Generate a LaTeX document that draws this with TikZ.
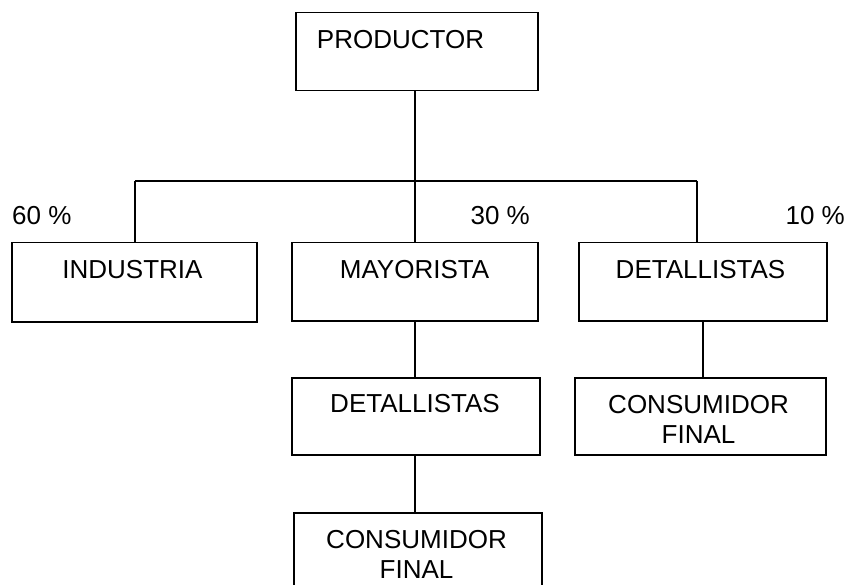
\documentclass[tikz,border=0pt]{standalone}
\usepackage{fontspec}
\setmainfont{Liberation Sans}
\begin{document}
\begin{tikzpicture}[x=1pt,y=-1pt,
  box/.style={draw, line width=1.5pt, inner sep=0pt, anchor=north west},
  lbl/.style={inner sep=0pt, anchor=base, font=\fontsize{26}{30}\selectfont},
  wire/.style={line width=1.5pt}]
\clip (0,0) rectangle (856,585);
\fill[white] (0,0) rectangle (856,585);
% boxes
\node[box, minimum width=242pt, minimum height=78pt] (prod) at (295,12) {};
\node[box, minimum width=245pt, minimum height=79pt] (ind) at (11,242) {};
\node[box, minimum width=246pt, minimum height=78pt] (may) at (291,242) {};
\node[box, minimum width=248pt, minimum height=78pt] (detR) at (578,242) {};
\node[box, minimum width=248pt, minimum height=77pt] (detM) at (291,377) {};
\node[box, minimum width=251pt, minimum height=77pt] (consR) at (574,377) {};
\node[box, minimum width=248pt, minimum height=90pt] (consM) at (293,512) {};
% texts
\node[lbl] (tprod) at (400.5,49) {PRODUCTOR};
\node[lbl] (tind) at (132.5,278) {INDUSTRIA};
\node[lbl] (tmay) at (414.5,278) {MAYORISTA};
\node[lbl] (tdetR) at (700.5,278) {DETALLISTAS};
\node[lbl] (tdetM) at (415,412) {DETALLISTAS};
\node[lbl] (tconsR1) at (698.5,413) {CONSUMIDOR};
\node[lbl] (tconsR2) at (698.5,443) {FINAL};
\node[lbl] (tconsM1) at (416.5,548) {CONSUMIDOR};
\node[lbl] (tconsM2) at (416.5,578) {FINAL};
% percentages
\node[lbl, anchor=base west] (p60) at (12,225) {60 \%};
\node[lbl, anchor=base east] (p30) at (530,225) {30 \%};
\node[lbl, anchor=base east] (p10) at (845,225) {10 \%};
% connectors
\coordinate (bus) at (415,181);
\coordinate (busL) at (135,181);
\coordinate (busR) at (697,181);
\draw[wire] (prod.south -| bus) -- (bus);
\draw[wire] (busL) -- (busR);
\draw[wire] (busL) -- (busL |- ind.north);
\draw[wire] (bus) -- (bus |- may.north);
\draw[wire] (busR) -- (busR |- detR.north);
\draw[wire] (may.south -| bus) -- (bus |- detM.north);
\draw[wire] (detM.south -| bus) -- (bus |- consM.north);
\draw[wire] (detR.south) -- (detR.south |- consR.north);
\end{tikzpicture}
\end{document}
